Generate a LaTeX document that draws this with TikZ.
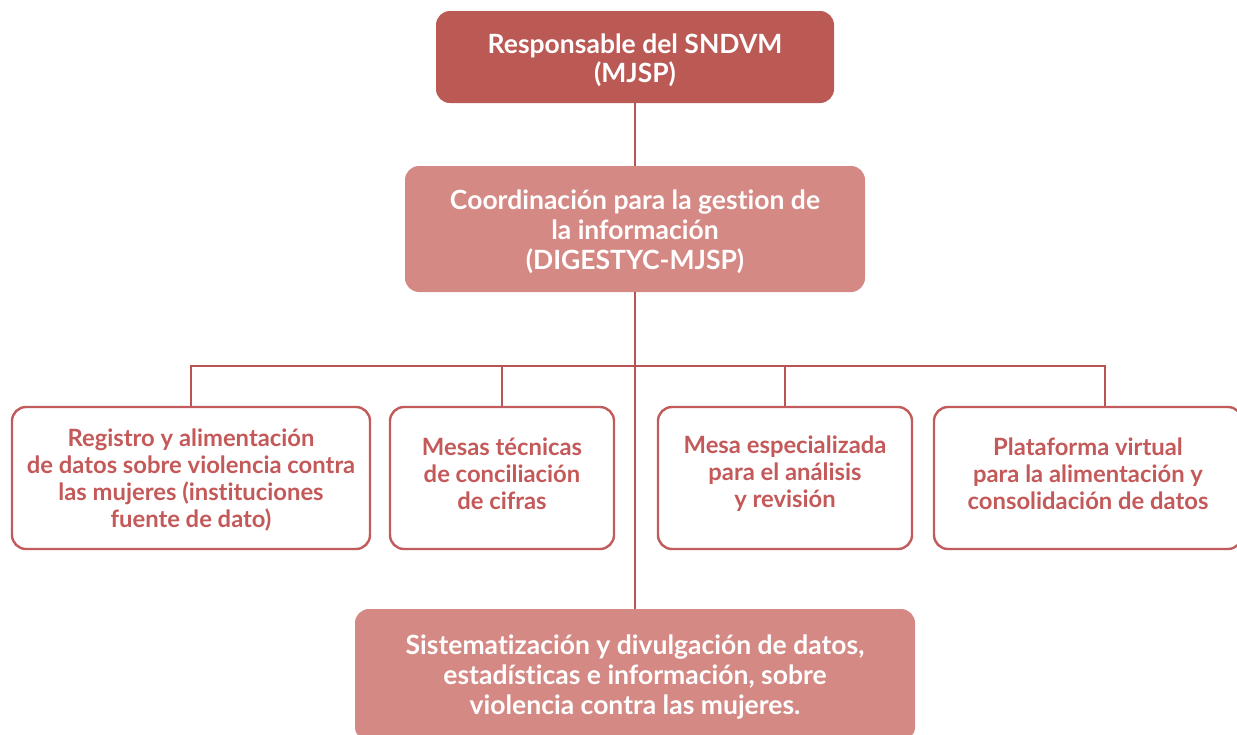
\documentclass[tikz,border=0pt]{standalone}
\usepackage{fontspec}
\setmainfont{Lato}[UprightFont={* Bold},Ligatures=NoCommon]
\definecolor{dark}{HTML}{BB5955}
\definecolor{mid}{HTML}{D58984}
\definecolor{edge}{HTML}{C25B5B}
\definecolor{wire}{HTML}{B95454}
\definecolor{rtext}{HTML}{C4595A}
\begin{document}
\begin{tikzpicture}[x=1pt,y=-1pt,
  filledbox/.style={rectangle,rounded corners=14pt,inner sep=0pt},
  filledtext/.style={inner sep=0pt,align=center,text=white,font=\fontsize{26.5}{30}\selectfont},
  linebox/.style={rectangle,rounded corners=14pt,inner sep=0pt,draw=edge,line width=2.4pt,fill=white,minimum height=142pt},
  linetext/.style={inner sep=0pt,align=center,text=rtext,font=\fontsize{23.8}{27}\selectfont},
  wirestyle/.style={draw=wire,line width=2pt}]
\useasboundingbox (0,0) rectangle (1237,734);
\clip (0,0) rectangle (1237,734);
\node[filledbox,fill=dark,minimum width=398pt,minimum height=92pt] (top) at (635,57) {};
\node[filledtext,font=\fontsize{26.5}{28.5}\selectfont] (topt) at (635,60) {Responsable del SNDVM\\(MJSP)};
\node[filledbox,fill=mid,minimum width=460pt,minimum height=126pt] (coord) at (635,229) {};
\node[filledtext] (coordt) at (635,232) {Coordinación para la gestion de\\la información\\ (DIGESTYC-MJSP)};
\node[linebox,minimum width=358pt] (b1) at (191,478) {};
\node[linetext] (b1t) at (191,480) {Registro y alimentación\\de datos sobre violencia contra\\las mujeres (instituciones\\fuente de dato)};
\node[linebox,minimum width=224pt] (b2) at (502,478) {};
\node[linetext] (b2t) at (502,474) {Mesas técnicas\\de conciliación\\de cifras};
\node[linebox,minimum width=254pt] (b3) at (785,478) {};
\node[linetext] (b3t) at (785,474) {Mesa especializada\\para el análisis\\y revisión};
\node[linebox,minimum width=308pt] (b4) at (1088,478) {};
\node[linetext] (b4t) at (1088,474) {Plataforma virtual\\para la alimentación y\\consolidación de datos};
\node[filledbox,fill=mid,minimum width=560pt,minimum height=132pt] (bot) at (635,675) {};
\node[filledtext] (bott) at (635,677) {Sistematización y divulgación de datos,\\estadísticas e información, sobre\\violencia contra las mujeres.};
\coordinate (j4) at (1105,366);
\path[wirestyle] (top.south) -- (coord.north);
\path[wirestyle] (coord.south) -- (bot.north);
\path[wirestyle] (b1.north) |- (j4) -- (j4 |- b4.north);
\path[wirestyle] (b2.north) -- (b2.north |- j4);
\path[wirestyle] (b3.north) -- (b3.north |- j4);
\end{tikzpicture}
\end{document}
